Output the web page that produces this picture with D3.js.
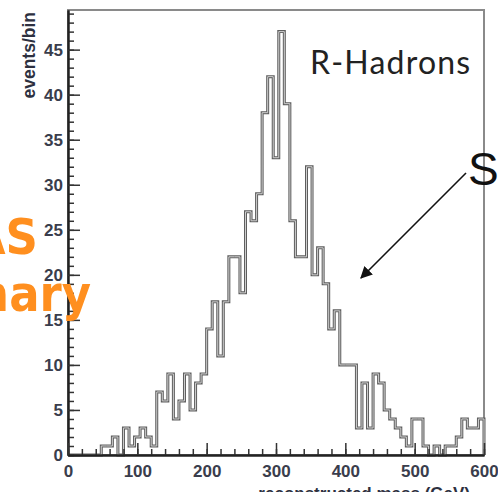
<!DOCTYPE html>
<html>
<head>
<meta charset="utf-8">
<script src="https://cdn.jsdelivr.net/npm/d3@7"></script>
<style>
body { margin: 0; background: #fff; }
svg { display: block; font-family: "Liberation Sans", Arial, sans-serif; }
</style>
</head>
<body>
<svg width="498" height="492"></svg>
<script>
// reconstructed mass histogram, 8 GeV bins from 0 to 600
let massRange = [0, 600]
let binWidth = 8
let counts = [
  0, 0, 0, 0, 0, 0, 1, 1, 2, 0,
  3, 1, 2, 3, 2, 1, 7, 6, 9, 4,
  6, 9, 5, 8, 9, 14, 17, 11, 17, 22,
  22, 18, 27, 26, 29, 38, 42, 33, 47, 39,
  26, 22, 22, 32, 20, 23, 19, 14, 16, 10,
  10, 10, 3, 8, 3, 9, 8, 5, 4, 3,
  2, 1, 4, 4, 1, 0, 1, 0, 1, 1,
  2, 4, 3, 3, 4
]
let xTicks = [0, 100, 200, 300, 400, 500, 600]
let yTicks = [0, 5, 10, 15, 20, 25, 30, 35, 40, 45]
let yMax = 49.4

let svg = d3.select("svg")
let frame = {left: 68, right: 484, top: 10, bottom: 455}

let x = d3.scaleLinear().domain(massRange).range([frame.left, frame.right])
let y = d3.scaleLinear().domain([0, yMax]).range([frame.bottom, frame.top])

// frame (top / right are grey)
svg.append("rect")
    .attr("x", frame.left).attr("y", frame.top)
    .attr("width", frame.right - frame.left)
    .attr("height", frame.bottom - frame.top)
    .attr("fill", "none")
    .attr("stroke", "#8a8a8a")
    .attr("stroke-width", 2)

// histogram outline
let pts = [[massRange[0], 0]]
counts.forEach((c, i) => {
  pts.push([i * binWidth, c])
  pts.push([(i + 1) * binWidth, c])
})
pts.push([massRange[1], 0])

let line = d3.line().x(d => x(d[0])).y(d => y(d[1]))

svg.append("path")
    .attr("d", line(pts))
    .attr("fill", "none")
    .attr("stroke", "#5e5e5e")
    .attr("stroke-width", 3)
svg.append("path")
    .attr("d", line(pts))
    .attr("fill", "none")
    .attr("stroke", "#d0d0d0")
    .attr("stroke-width", 1)

// axes, ticks pointing into the frame
let minorY = d3.range(0, 50, 1)
let minorX = d3.range(0, 601, 20)

svg.append("g")
    .attr("transform", "translate(" + frame.left + ",0)")
    .call(d3.axisLeft(y).tickValues(minorY).tickSize(-6).tickSizeOuter(0).tickFormat(""))
svg.append("g")
    .attr("class", "yaxis")
    .attr("transform", "translate(" + frame.left + ",0)")
    .call(d3.axisLeft(y).tickValues(yTicks).tickSize(-12).tickSizeOuter(0).tickPadding(5))

svg.append("g")
    .attr("transform", "translate(0," + frame.bottom + ")")
    .call(d3.axisBottom(x).tickValues(minorX).tickSize(-6).tickSizeOuter(0).tickFormat(""))
svg.append("g")
    .attr("class", "xaxis")
    .attr("transform", "translate(0," + frame.bottom + ")")
    .call(d3.axisBottom(x).tickValues(xTicks).tickSize(-12).tickSizeOuter(0).tickPadding(10))

svg.selectAll(".tick line").attr("stroke", "#333").attr("stroke-width", 1.5)
svg.selectAll(".domain").attr("stroke", "#222").attr("stroke-width", 2)
svg.selectAll(".tick text")
    .attr("font-size", 17)
    .attr("font-weight", "bold")
    .attr("font-family", "Liberation Sans, Arial, sans-serif")
    .attr("fill", "#3a3d4c")

// axis titles
svg.append("text")
    .attr("transform", "translate(35,12) rotate(-90)")
    .attr("text-anchor", "end")
    .attr("font-size", 17.5)
    .attr("font-weight", "bold")
    .attr("fill", "#2d3040")
    .text("events/bin")

svg.append("text")
    .attr("x", 470).attr("y", 499)
    .attr("text-anchor", "end")
    .attr("font-size", 17)
    .attr("font-weight", "bold")
    .attr("fill", "#2d3040")
    .text("reconstructed mass (GeV)")

// label
svg.append("text")
    .attr("x", 310).attr("y", 74)
    .attr("font-family", "Lato, 'Open Sans', sans-serif")
    .attr("font-size", 32)
    .attr("letter-spacing", 1.2)
    .attr("fill", "#222")
    .text("R-Hadrons")

// orange ATLAS Preliminary, cut by the left edge
svg.append("text")
    .attr("x", 38).attr("y", 254)
    .attr("text-anchor", "end")
    .attr("font-family", "'DejaVu Sans Condensed', 'DejaVu Sans', sans-serif")
    .attr("font-weight", "bold")
    .attr("font-size", 50)
    .attr("fill", "#ff8f1f")
    .text("ATLAS")
svg.append("text")
    .attr("x", 91).attr("y", 311)
    .attr("text-anchor", "end")
    .attr("font-family", "'DejaVu Sans Condensed', 'DejaVu Sans', sans-serif")
    .attr("font-weight", "bold")
    .attr("font-size", 50)
    .attr("fill", "#ff8f1f")
    .text("Preliminary")

// "S..." annotation with arrow
svg.append("text")
    .attr("x", 468).attr("y", 185)
    .attr("font-size", 46)
    .attr("fill", "#111")
    .text("S")

svg.append("defs").append("marker")
    .attr("id", "head")
    .attr("viewBox", "0 0 10 10")
    .attr("refX", 9).attr("refY", 5)
    .attr("markerWidth", 12).attr("markerHeight", 12)
    .attr("markerUnits", "userSpaceOnUse")
    .attr("orient", "auto")
  .append("path")
    .attr("d", "M0,0 L10,5 L0,10 Z")
    .attr("fill", "#111")

svg.append("line")
    .attr("x1", 466).attr("y1", 173)
    .attr("x2", 361).attr("y2", 278)
    .attr("stroke", "#111")
    .attr("stroke-width", 1.6)
    .attr("marker-end", "url(#head)")
</script>
</body>
</html>
